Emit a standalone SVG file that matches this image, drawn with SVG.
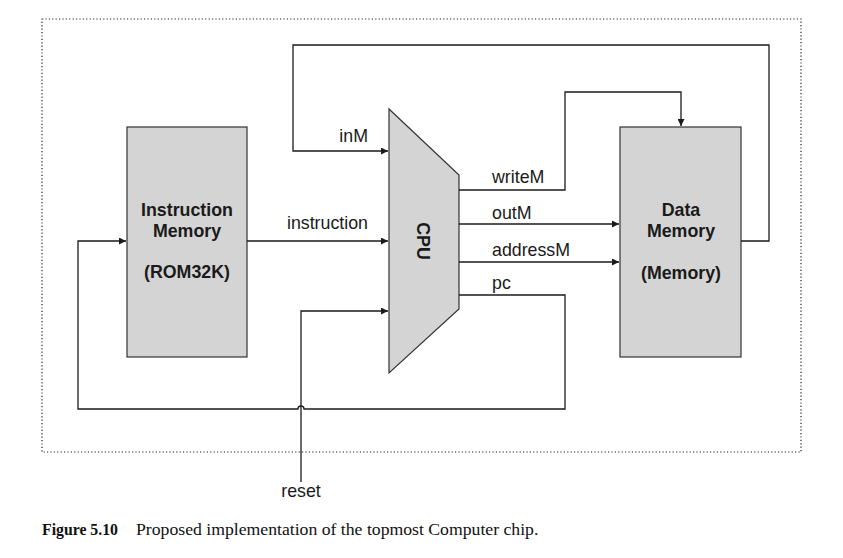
<svg xmlns="http://www.w3.org/2000/svg" width="843" height="558" viewBox="0 0 843 558">
  <style>
    .frame { fill: none; stroke: #222; stroke-width: 1.2; stroke-dasharray: 1.2 2.2; }
    .chip { fill: #d4d4d4; stroke: #333; stroke-width: 1.2; }
    .wire { fill: none; stroke: #1a1a1a; stroke-width: 1.3; }
    .lbl { font-family: "Liberation Sans", Arial, sans-serif; font-size: 17.8px; fill: #1a1a1a; }
    .name { font-family: "Liberation Sans", Arial, sans-serif; font-size: 17.8px; font-weight: bold; fill: #1a1a1a; text-anchor: middle; }
    .cap { font-family: "Liberation Serif", "Times New Roman", serif; font-size: 17.7px; fill: #111; }
  </style>
  <defs>
    <marker id="arrow" viewBox="0 0 10 10" refX="10" refY="5" markerWidth="9" markerHeight="7" markerUnits="userSpaceOnUse" orient="auto">
      <path d="M0,0 L10,5 L0,10 Z" fill="#1a1a1a"/>
    </marker>
  </defs>

  <rect width="843" height="558" fill="#ffffff"/>

  <!-- dotted chip boundary -->
  <rect class="frame" x="42" y="19" width="759" height="433"/>

  <g id="instruction-memory">
    <rect class="chip" x="127" y="127" width="120" height="230"/>
    <text class="name" x="187" y="216">Instruction</text>
    <text class="name" x="187" y="237">Memory</text>
    <text class="name" x="187" y="278">(ROM32K)</text>
  </g>

  <g id="cpu">
    <path class="chip" d="M389,109 L459,175 L459,309 L389,373 Z"/>
    <text class="name" transform="translate(417,241) rotate(90)">CPU</text>
  </g>

  <g id="data-memory">
    <rect class="chip" x="620" y="127" width="121" height="230"/>
    <text class="name" x="681" y="216">Data</text>
    <text class="name" x="681" y="237">Memory</text>
    <text class="name" x="681" y="279">(Memory)</text>
  </g>

  <g id="connectors">
    <!-- inM: data memory output back into the CPU -->
    <path class="wire" d="M741,241 L769,241 L769,45 L293,45 L293,151 L388,151" marker-end="url(#arrow)"/>
    <!-- instruction -->
    <path class="wire" d="M247,241 L388,241" marker-end="url(#arrow)"/>
    <!-- writeM -->
    <path class="wire" d="M459,190 L565,190 L565,92 L681,92 L681,126" marker-end="url(#arrow)"/>
    <!-- outM -->
    <path class="wire" d="M459,224 L619,224" marker-end="url(#arrow)"/>
    <!-- addressM -->
    <path class="wire" d="M459,262 L619,262" marker-end="url(#arrow)"/>
    <!-- pc: loops around to the instruction memory, hopping over reset -->
    <path class="wire" d="M459,295 L565,295 L565,409 L304,409 A3,3 0 0 0 298,409 L78,409 L78,241 L126,241" marker-end="url(#arrow)"/>
    <!-- reset -->
    <path class="wire" d="M301,482 L301,311 L388,311" marker-end="url(#arrow)"/>
  </g>

  <g id="labels">
    <text class="lbl" x="368" y="142" text-anchor="end">inM</text>
    <text class="lbl" x="368" y="229" text-anchor="end">instruction</text>
    <text class="lbl" x="492" y="183">writeM</text>
    <text class="lbl" x="492" y="219">outM</text>
    <text class="lbl" x="492" y="256">addressM</text>
    <text class="lbl" x="492" y="289">pc</text>
    <text class="lbl" x="301" y="497" text-anchor="middle">reset</text>
  </g>

  <text class="cap" x="42" y="535"><tspan font-weight="bold" textLength="76" lengthAdjust="spacingAndGlyphs">Figure 5.10</tspan><tspan x="136">Proposed implementation of the topmost Computer chip.</tspan></text>
</svg>
